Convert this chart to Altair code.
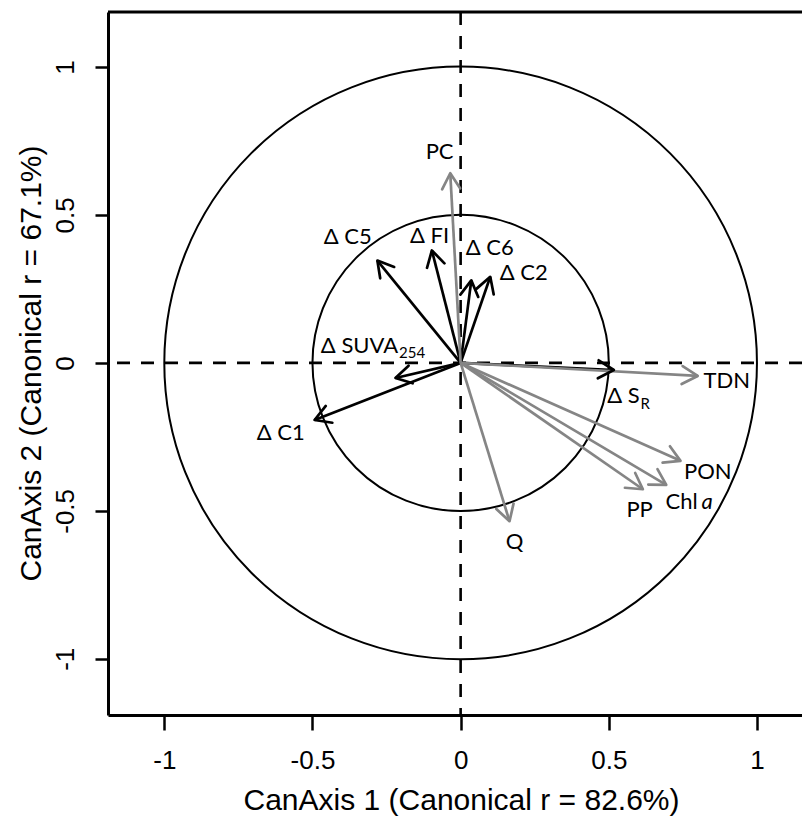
import math
import altair as alt
import pandas as pd

# ---- data ----
arrow_names = ["Δ C1", "Δ C2", "Δ C5", "Δ C6", "Δ FI", "Δ SUVA254", "Δ SR",
               "PC", "TDN", "PON", "Chl a", "PP", "Q"]
arrow_group = ["optical"] * 7 + ["water"] * 6
arrow_x = [-0.493, 0.100, -0.281, 0.036, -0.097, -0.220, 0.517,
           -0.035, 0.800, 0.742, 0.694, 0.615, 0.165]
arrow_y = [-0.193, 0.291, 0.346, 0.279, 0.380, -0.051, -0.024,
           0.641, -0.044, -0.331, -0.412, -0.427, -0.535]

label_text = ["PC", "Δ C5", "Δ FI", "Δ C6", "Δ C2", "Δ C1", "TDN", "PON", "PP", "Q"]
label_x = [-0.071, -0.381, -0.105, 0.098, 0.213, -0.607, 0.898, 0.834, 0.604, 0.182]
label_y = [0.712, 0.425, 0.429, 0.388, 0.304, -0.236, -0.061, -0.368, -0.496, -0.604]

main_text = ["Δ SUVA", "Δ S", "Chl"]
main_x = [-0.211, 0.604, 0.800]
main_y = [0.057, -0.111, -0.469]

sub_text = ["254", "R"]
sub_x = [-0.208, 0.607]
sub_y = [0.032, -0.138]

ital_text = ["a"]
ital_x = [0.813]
ital_y = [-0.469]

circle_r = [1.0, 0.5]
tick_values = [-1, -0.5, 0, 0.5, 1]

# ---- layout ----
XMIN, XMAX = -1.19, 1.152
YMIN, YMAX = -1.19, 1.186
W, H = 694, 703
PPU = W / (XMAX - XMIN)

AX_FONT = "Liberation Sans, Arial, sans-serif"
LB_FONT = "Lato, Noto Sans, sans-serif"
GRAY = "#858585"

xs = alt.Scale(domain=[XMIN, XMAX], nice=False, zero=False)
ys = alt.Scale(domain=[YMIN, YMAX], nice=False, zero=False)

x_axis = alt.Axis(values=tick_values, labelExpr="'' + datum.value",
                  title="CanAxis 1 (Canonical r = 82.6%)", grid=False,
                  labelFont=AX_FONT, labelFontSize=26, labelColor="black",
                  labelBaseline="alphabetic", labelPadding=38,
                  tickSize=15, tickWidth=2.5, tickColor="black",
                  domainColor="black", domainWidth=3,
                  titleFont=AX_FONT, titleFontSize=30, titleFontWeight="normal",
                  titleColor="black", titleX=353, titleY=94,
                  titleAlign="center", titleBaseline="alphabetic")
y_axis = alt.Axis(values=tick_values, labelExpr="'' + datum.value",
                  title="CanAxis 2 (Canonical r = 67.1%)", grid=False,
                  labelFont=AX_FONT, labelFontSize=26, labelColor="black",
                  labelAngle=270, labelAlign="center", labelBaseline="alphabetic",
                  labelPadding=22,
                  tickSize=13, tickWidth=2.5, tickColor="black",
                  domainColor="black", domainWidth=3,
                  titleFont=AX_FONT, titleFontSize=30, titleFontWeight="normal",
                  titleColor="black", titleAngle=270, titleX=-68, titleY=351,
                  titleAlign="center", titleBaseline="alphabetic")


def X(field):
    return alt.X(field, type="quantitative", scale=xs, axis=x_axis)


def Y(field):
    return alt.Y(field, type="quantitative", scale=ys, axis=y_axis)


arrows = pd.DataFrame({
    "name": arrow_names, "group": arrow_group,
    "x": arrow_x, "y": arrow_y,
})
arrows["x0"] = 0.0
arrows["y0"] = 0.0
arrows["ang"] = [(math.degrees(math.atan2(-b, a)) + 360) % 360
                 for a, b in zip(arrow_x, arrow_y)]

color = alt.Color("group:N", scale=alt.Scale(domain=["optical", "water"],
                                            range=["black", GRAY]), legend=None)

# reference circles (radius in data units -> symbol area in px^2)
circles = pd.DataFrame({"x": [0.0, 0.0], "y": [0.0, 0.0], "r": circle_r})
circle_layer = alt.Chart(circles).transform_calculate(
    sz=f"pow(2 * datum.r * {PPU}, 2)"
).mark_point(
    shape="circle", filled=False, stroke="black", strokeWidth=2, opacity=1
).encode(
    x=X("x"), y=Y("y"),
    size=alt.Size("sz:Q", scale=None),
)

zero = pd.DataFrame({"x": [0.0], "y": [0.0]})
vline = alt.Chart(zero).mark_rule(color="black", strokeWidth=2.6,
                                  strokeDash=[13, 11]).encode(x=X("x"))
hline = alt.Chart(zero).mark_rule(color="black", strokeWidth=2.6,
                                  strokeDash=[13, 11]).encode(y=Y("y"))
top_frame = alt.Chart(zero).mark_rule(color="black", strokeWidth=3).encode(
    y=alt.value(0))

shafts = alt.Chart(arrows).mark_rule(strokeWidth=2.7).encode(
    x=X("x0"), y=Y("y0"), x2="x", y2="y", color=color)

heads = alt.Chart(arrows).mark_point(
    shape="M -1.732 -1 L 0 0 L -1.732 1", filled=False, size=324,
    strokeWidth=2.7, opacity=1, strokeJoin="round", strokeCap="round"
).encode(
    x=X("x"), y=Y("y"),
    angle=alt.Angle("ang:Q", scale=None),
    color=color,
)

labels = pd.DataFrame({"t": label_text, "x": label_x, "y": label_y})
label_layer = alt.Chart(labels).mark_text(
    font=LB_FONT, fontSize=22, color="black", align="center", baseline="middle"
).encode(x=X("x"), y=Y("y"), text="t:N")

mains = pd.DataFrame({"t": main_text, "x": main_x, "y": main_y})
main_layer = alt.Chart(mains).mark_text(
    font=LB_FONT, fontSize=22, color="black", align="right", baseline="middle"
).encode(x=X("x"), y=Y("y"), text="t:N")

subs = pd.DataFrame({"t": sub_text, "x": sub_x, "y": sub_y})
sub_layer = alt.Chart(subs).mark_text(
    font=LB_FONT, fontSize=15, color="black", align="left", baseline="middle"
).encode(x=X("x"), y=Y("y"), text="t:N")

itals = pd.DataFrame({"t": ital_text, "x": ital_x, "y": ital_y})
ital_layer = alt.Chart(itals).mark_text(
    font=LB_FONT, fontSize=22, fontStyle="italic", color="black",
    align="left", baseline="middle"
).encode(x=X("x"), y=Y("y"), text="t:N")

chart = alt.layer(
    circle_layer, vline, hline, top_frame, shafts, heads,
    label_layer, main_layer, sub_layer, ital_layer
).properties(
    width=W, height=H,
    autosize=alt.AutoSizeParams(type="none"),
    padding={"left": 108, "top": 12, "right": 0, "bottom": 101},
).configure_view(stroke=None).configure(background="white")

chart.save("out.html", embed_options={"renderer": "svg", "actions": False})
